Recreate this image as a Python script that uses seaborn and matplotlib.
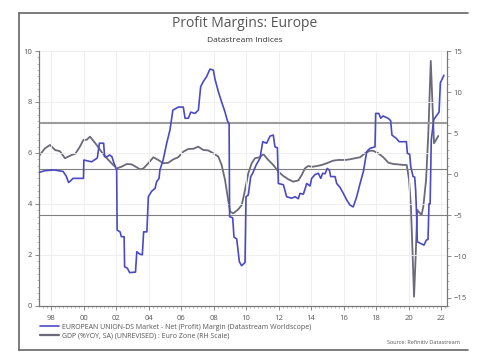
import matplotlib
matplotlib.use("Agg")
import matplotlib.pyplot as plt
import matplotlib.ticker as mticker
from matplotlib.lines import Line2D
import seaborn as sns
import pandas as pd

# profit margin (left axis), decimal year / value
pm_years = [1997.2, 1997.6, 1998.2, 1998.75, 1998.95, 1999.08, 1999.2, 1999.35, 2000.0, 2000.02,
            2000.5, 2000.85, 2000.98, 2001.24, 2001.3, 2001.45, 2001.6, 2001.75, 2001.88, 2002.04,
            2002.07, 2002.25, 2002.33, 2002.5, 2002.53, 2002.7, 2002.84, 2003.2, 2003.28, 2003.45,
            2003.62, 2003.7, 2003.9, 2003.99, 2004.2, 2004.4, 2004.5, 2004.65, 2004.7, 2004.9,
            2005.12, 2005.32, 2005.5, 2005.84, 2006.14, 2006.25, 2006.45, 2006.6, 2006.86, 2007.07,
            2007.21, 2007.37, 2007.58, 2007.78, 2007.99, 2008.09, 2008.3, 2008.5, 2008.71, 2008.85,
            2008.96, 2008.99, 2009.18, 2009.26, 2009.43, 2009.59, 2009.73, 2009.94, 2010.0, 2010.14,
            2010.29, 2010.41, 2010.62, 2010.86, 2011.03, 2011.27, 2011.48, 2011.68, 2011.78, 2011.93,
            2011.99, 2012.3, 2012.5, 2012.81, 2013.02, 2013.22, 2013.32, 2013.53, 2013.74, 2013.94,
            2014.04, 2014.25, 2014.45, 2014.6, 2014.72, 2014.86, 2015.0, 2015.13, 2015.21, 2015.48,
            2015.58, 2015.78, 2015.99, 2016.2, 2016.4, 2016.6, 2016.81, 2017.02, 2017.22, 2017.43,
            2017.63, 2017.94, 2017.98, 2018.17, 2018.29, 2018.43, 2018.74, 2018.9, 2018.98, 2019.25,
            2019.42, 2019.87, 2019.93, 2020.07, 2020.14, 2020.28, 2020.38, 2020.44, 2020.5, 2020.54,
            2020.95, 2021.1, 2021.2, 2021.26, 2021.33, 2021.4, 2021.55, 2021.71, 2021.88, 2021.96,
            2022.18]
pm_values = [5.22, 5.3, 5.33, 5.27, 5.07, 4.84, 4.9, 5.0, 5.0, 5.72,
             5.65, 5.8, 6.38, 6.38, 5.85, 5.85, 5.92, 5.85, 5.59, 5.33,
             2.97, 2.9, 2.71, 2.71, 1.53, 1.47, 1.3, 1.32, 2.12, 2.03,
             2.0, 2.9, 2.9, 4.28, 4.5, 4.6, 4.87, 5.0, 5.33, 5.72,
             6.38, 6.9, 7.68, 7.8, 7.8, 7.36, 7.36, 7.6, 7.55, 7.68,
             8.6, 8.8, 9.0, 9.29, 9.25, 8.9, 8.4, 8.0, 7.6, 7.27,
             7.13, 3.5, 3.45, 2.7, 2.62, 1.73, 1.57, 1.7, 4.28, 4.35,
             5.07, 5.2, 5.52, 5.79, 6.44, 6.38, 6.66, 6.7, 6.24, 6.2,
             4.8, 4.75, 4.28, 4.22, 4.28, 4.2, 4.41, 4.38, 4.8, 4.7,
             5.0, 5.15, 5.2, 5.0, 5.2, 5.18, 5.39, 5.33, 5.07, 5.07,
             4.8, 4.65, 4.41, 4.15, 3.95, 3.88, 4.28, 4.8, 5.26, 6.05,
             6.18, 6.24, 7.55, 7.55, 7.36, 7.45, 7.36, 7.27, 6.7, 6.57,
             6.44, 6.44, 5.98, 5.95, 5.46, 5.07, 5.05, 4.54, 3.5, 2.51,
             2.38, 2.58, 2.6, 4.0, 4.0, 6.5, 7.3, 7.45, 7.6, 8.75,
             9.05]

# GDP % yoy (right axis)
gdp_years = [1997.25, 1997.63, 1997.94, 1998.25, 1998.55, 1998.86, 1999.27, 1999.5, 1999.78, 1999.99,
             2000.2, 2000.4, 2000.6, 2000.81, 2001.02, 2001.26, 2001.53, 2001.83, 2002.08, 2002.35,
             2002.66, 2002.97, 2003.27, 2003.48, 2003.68, 2003.99, 2004.3, 2004.6, 2004.91, 2005.22,
             2005.53, 2005.83, 2006.14, 2006.45, 2006.76, 2007.06, 2007.37, 2007.68, 2007.99, 2008.3,
             2008.5, 2008.71, 2008.87, 2009.02, 2009.22, 2009.53, 2009.74, 2009.94, 2010.14, 2010.35,
             2010.55, 2010.86, 2011.06, 2011.37, 2011.68, 2011.99, 2012.3, 2012.6, 2012.91, 2013.22,
             2013.43, 2013.63, 2013.83, 2014.04, 2014.35, 2014.66, 2014.97, 2015.37, 2015.68, 2016.09,
             2016.4, 2016.71, 2017.02, 2017.32, 2017.63, 2017.83, 2018.14, 2018.45, 2018.76, 2019.06,
             2019.37, 2019.68, 2019.89, 2020.03, 2020.15, 2020.26, 2020.34, 2020.44, 2020.54, 2020.71,
             2020.8, 2020.91, 2021.08, 2021.22, 2021.37, 2021.57, 2021.69, 2021.83]
gdp_values = [2.2, 3.16, 3.56, 2.96, 2.8, 1.95, 2.35, 2.5, 3.36, 4.17,
              4.2, 4.58, 4.09, 3.56, 2.96, 2.35, 1.74, 1.13, 0.73, 0.93,
              1.25, 1.2, 0.85, 0.6, 0.7, 1.34, 2.07, 1.74, 1.34, 1.4,
              1.82, 2.07, 2.75, 3.08, 3.1, 3.36, 2.96, 2.9, 2.55, 2.14,
              1.13, -0.69, -2.72, -4.55, -4.75, -4.26, -3.73, -1.91, 0.12, 1.34,
              1.95, 2.07, 2.47, 1.74, 1.13, 0.32, -0.21, -0.61, -0.9, -0.75,
              -0.09, 0.73, 1.01, 0.9, 1.0, 1.13, 1.34, 1.66, 1.74, 1.74,
              1.82, 1.95, 2.07, 2.55, 2.87, 2.85, 2.55, 2.07, 1.41, 1.25,
              1.2, 1.13, 1.13, -0.6, -4.0, -10.2, -14.9, -10.0, -4.34, -4.75,
              -4.95, -3.94, -0.7, 4.99, 13.8, 3.77, 4.17, 4.66]

# mean and +/- 1 sd of the margin
ref_levels = [7.16, 5.36, 3.56]
ref_widths = [1.5, 0.8, 0.8]
ref_colors = ["#9c9c9c", "#808080", "#808080"]

year_ticks = list(range(1998, 2023, 2))
year_labels = ["98", "00", "02", "04", "06", "08", "10", "12", "14", "16", "18", "20", "22"]

label_pm = "EUROPEAN UNION-DS Market - Net (Profit) Margin (Datastream Worldscope)"
label_gdp = "GDP (%YOY, SA) (UNREVISED) : Euro Zone (RH Scale)"

blue = "#4a4ac4"
grey = "#6a6a78"
txt = "#555555"

sns.set_style("white")
plt.rcParams["font.family"] = ["Open Sans", "DejaVu Sans"]

df_pm = pd.DataFrame({"year": pm_years, "value": pm_values})
df_gdp = pd.DataFrame({"year": gdp_years, "value": gdp_values})

fig = plt.figure(figsize=(5, 3.58), dpi=100)
ax = fig.add_axes([0.0786, 0.146, 0.8148, 0.7115])
ax2 = ax.twinx()

ax.grid(True, color="#ededed", lw=0.6)
for lvl, w, c in zip(ref_levels, ref_widths, ref_colors):
    ax.axhline(lvl, color=c, lw=w, zorder=1)

sns.lineplot(data=df_pm, x="year", y="value", ax=ax, color=blue, lw=1.2,
             sort=False, estimator=None, zorder=3)
sns.lineplot(data=df_gdp, x="year", y="value", ax=ax2, color=grey, lw=1.3,
             sort=False, estimator=None, zorder=2)

ax.set_xlim(1997.28, 2022.35)
ax.set_ylim(0, 10)
ax2.set_ylim(-16, 15)
ax.set_xlabel("")
ax.set_ylabel("")
ax2.set_ylabel("")

ax.set_xticks(year_ticks)
ax.set_xticklabels(year_labels)
ax.xaxis.set_minor_locator(mticker.MultipleLocator(0.25))
ax.set_yticks([0, 2, 4, 6, 8, 10])
ax.yaxis.set_minor_locator(mticker.MultipleLocator(0.25))
ax2.set_yticks([-15, -10, -5, 0, 5, 10, 15])
ax2.yaxis.set_minor_locator(mticker.MultipleLocator(1))

for a in (ax, ax2):
    a.tick_params(which="major", length=3, width=0.6, color="#777777",
                  labelsize=5.5, labelcolor=txt, pad=2)
    a.tick_params(which="minor", length=1.5, width=0.5, color="#999999")
    for s in a.spines.values():
        s.set_color("#777777")
        s.set_linewidth(0.8)
    a.spines["top"].set_visible(False)
ax.tick_params(axis="x", which="major", pad=4)
ax2.tick_params(axis="y", which="both", right=True)
ax.tick_params(axis="y", which="both", left=True)
ax.tick_params(axis="x", which="both", bottom=True)

# keep margin line above the gdp line
ax.set_zorder(ax2.get_zorder() + 1)
ax.patch.set_visible(False)

fig.text(0.49, 0.934, "Profit Margins: Europe", ha="center", va="center",
         fontsize=10, color="#555555")
fig.text(0.49, 0.888, "Datastream Indices", ha="center", va="center",
         fontsize=6, color="#333333")

handles = [Line2D([], [], color=blue, lw=1.2), Line2D([], [], color=grey, lw=1.6)]
fig.legend(handles, [label_pm, label_gdp], loc="upper left",
           bbox_to_anchor=(0.074, 0.106), frameon=False, fontsize=5,
           handlelength=2.6, handletextpad=0.5, labelspacing=0.25,
           borderpad=0, labelcolor=txt)

fig.text(0.92, 0.042, "Source: Refinitiv Datastream", ha="right", va="center",
         fontsize=4, color=txt)

# outer frame: top, left, bottom
frame = dict(color="#666666", lw=1.2, transform=fig.transFigure)
fig.add_artist(Line2D([0.038, 0.936], [0.963, 0.963], **frame))
fig.add_artist(Line2D([0.038, 0.038], [0.963, 0.022], **frame))
fig.add_artist(Line2D([0.038, 0.936], [0.022, 0.022], **frame))

fig.savefig("out.png", dpi=100)
